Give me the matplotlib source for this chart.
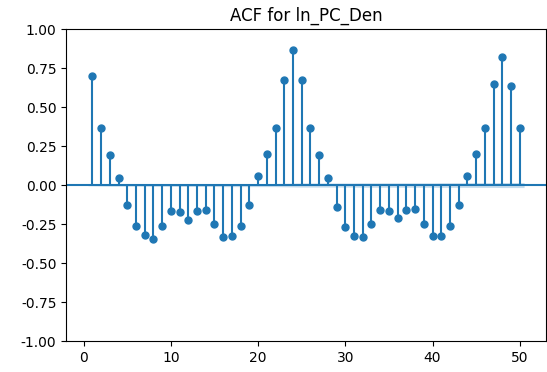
import matplotlib
matplotlib.use("Agg")
import matplotlib.pyplot as plt
import numpy as np

# Autocorrelation values for lags 1..50
lags = list(range(1, 51))
acf_values = [
    0.700, 0.367, 0.193, 0.045, -0.129, -0.260, -0.322, -0.343, -0.260, -0.168,
    -0.175, -0.222, -0.168, -0.158, -0.249, -0.335, -0.324, -0.260, -0.130, 0.056,
    0.202, 0.367, 0.672, 0.867, 0.672, 0.367, 0.193, 0.045, -0.139, -0.271,
    -0.324, -0.335, -0.249, -0.160, -0.168, -0.213, -0.158, -0.151, -0.249, -0.324,
    -0.324, -0.260, -0.130, 0.056, 0.202, 0.367, 0.646, 0.820, 0.635, 0.367,
]
# Half-width of the confidence band around zero at each lag
conf_halfwidth = [
    0.004, 0.006, 0.007, 0.007, 0.007, 0.007, 0.008, 0.008, 0.008, 0.008,
    0.009, 0.009, 0.009, 0.009, 0.009, 0.010, 0.010, 0.010, 0.010, 0.010,
    0.010, 0.010, 0.011, 0.012, 0.013, 0.013, 0.013, 0.013, 0.013, 0.013,
    0.013, 0.014, 0.014, 0.014, 0.014, 0.014, 0.014, 0.014, 0.014, 0.014,
    0.015, 0.015, 0.015, 0.015, 0.015, 0.015, 0.015, 0.016, 0.016, 0.016,
]
title = "ACF for ln_PC_Den"

fig = plt.figure(figsize=(5.47, 3.72), dpi=100)
ax = fig.add_axes([0.121, 0.083, 0.877, 0.839])

x = np.array(lags, dtype=float)
y = np.array(acf_values)
hw = np.array(conf_halfwidth)

ax.vlines(x, 0, y, colors="C0", linewidth=1.5)
ax.plot(x, y, marker="o", markersize=5, linestyle="None", color="C0")
ax.axhline(0, color="C0", linewidth=1.5)

band_x = x.copy()
band_x[0] -= 0.5
band_x[-1] += 0.5
ax.fill_between(band_x, -hw, hw, color="C0", alpha=0.25, linewidth=0)

ax.margins(0.05)
ax.set_ylim(-1, 1)
ax.set_yticks(np.arange(-1, 1.01, 0.25))
ax.yaxis.set_major_formatter(matplotlib.ticker.FormatStrFormatter("%.2f"))
ax.set_title(title, fontsize=12)

fig.savefig("out.png", dpi=100)
